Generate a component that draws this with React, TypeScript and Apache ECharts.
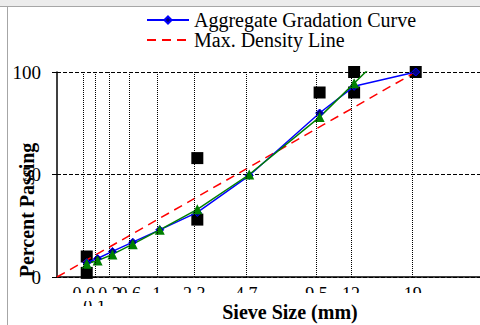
import React, { useEffect, useRef } from "react";
import * as echarts from "echarts";

// Sieve sizes (mm) and their tick labels as shown
const SIEVES = [0.075, 0.15, 0.3, 0.6, 1.18, 2.36, 4.75, 9.5, 12.5, 19];
const TICK_LABELS = ["0.0", "0.1", "0.3", "0.6", "1", "2.3", "4.7", "9.5", "12", "19"];
const STAGGERED = [false, true, false, false, false, false, false, false, false, false];

// Percent passing
const GRADATION = [7, 9, 12.5, 17, 23, 31.5, 49.5, 80, 93, 100];
const TRIAL = [6.5, 8, 11, 16, 23, 33, 50, 78, 94.5, 124];
const CONTROL_POINTS: [number, number][] = [
  [0.075, 2], [0.075, 10], [2.36, 28], [2.36, 58], [9.5, 90], [12.5, 90], [12.5, 100], [19, 100],
];
const MAX_DENSITY: [number, number][] = [[0, 0], [19, 100]];
const Y_TICKS = [0, 50, 100];

const POWER = 0.45;
const p = (s: number) => Math.pow(s, POWER);
const FONT = "'Liberation Serif', 'Times New Roman', serif";

export default function App() {
  const ref = useRef<HTMLDivElement>(null);
  useEffect(() => {
    if (!ref.current) return;
    const chart = echarts.init(ref.current, null, { renderer: "svg" });
    const xs = SIEVES.map(p);
    const nearest = (v: number) => {
      let bi = 0;
      xs.forEach((x, i) => { if (Math.abs(x - v) < Math.abs(xs[bi] - v)) bi = i; });
      return bi;
    };
    const labelBase = {
      showMinLabel: true, showMaxLabel: true, hideOverlap: false,
      formatter: (v: number) => TICK_LABELS[nearest(v)],
      fontSize: 18, lineHeight: 13, margin: 10, color: "#000", fontFamily: FONT,
    };
    const hiddenAxisParts = {
      axisLine: { show: false }, axisTick: { show: false }, splitLine: { show: false },
    };
    chart.setOption({
      animation: false,
      backgroundColor: "#fff",
      legend: {
        data: [
          { name: "Aggregate Gradation Curve" },
          { name: "Max. Density Line", itemStyle: { opacity: 0 } },
        ],
        orient: "vertical",
        left: 141,
        top: 5,
        itemWidth: 42,
        itemHeight: 9,
        itemGap: 0,
        textStyle: { fontSize: 20, fontFamily: FONT, color: "#000" },
      },
      grid: [
        { left: 54, right: 0, top: 72, bottom: 48 },
        { left: 57, right: 0, top: 72, bottom: 48 },
      ],
      xAxis: [
        {
          type: "value", gridIndex: 0, min: 0, max: 426 / 95.35, position: "bottom",
          ...hiddenAxisParts,
          axisLabel: { ...labelBase, customValues: xs.filter((_, i) => !STAGGERED[i]) },
        },
        {
          type: "value", gridIndex: 1, min: 0, max: 423 / 95.35,
          axisLine: { show: true, onZero: false, lineStyle: { color: "#000", width: 1.5 } },
          axisTick: { show: false }, axisLabel: { show: false }, splitLine: { show: false },
        },
        {
          type: "value", gridIndex: 0, min: 0, max: 426 / 95.35, position: "bottom", offset: 13,
          ...hiddenAxisParts,
          axisLabel: { ...labelBase, customValues: xs.filter((_, i) => STAGGERED[i]) },
        },
      ],
      yAxis: [
        { type: "value", gridIndex: 0, min: 0, max: 100, show: false },
        {
          type: "value", gridIndex: 1, min: Y_TICKS[0], max: Y_TICKS[2], interval: Y_TICKS[1] - Y_TICKS[0],
          axisLine: { show: true, lineStyle: { color: "#000", width: 1.5 } },
          axisTick: { show: true, length: 5, lineStyle: { color: "#000" } },
          splitLine: { show: true, lineStyle: { color: "#000", type: "dashed", width: 1 } },
          axisLabel: { fontSize: 19, margin: 16, color: "#000", fontFamily: FONT },
        },
      ],
      series: [
        {
          type: "line", xAxisIndex: 0, yAxisIndex: 0, data: [], silent: true,
          markLine: {
            silent: true, symbol: ["none", "none"], label: { show: false },
            lineStyle: { color: "#000", type: "dotted", width: 1 },
            data: xs.map((x) => ({ xAxis: x })),
          },
        },
        {
          name: "Control Points", type: "scatter", xAxisIndex: 1, yAxisIndex: 1,
          symbol: "rect", symbolSize: 12, itemStyle: { color: "#000", opacity: 1 },
          data: CONTROL_POINTS.map(([s, v]) => [p(s), v]),
        },
        {
          name: "Max. Density Line", type: "line", xAxisIndex: 1, yAxisIndex: 1,
          symbol: "none", lineStyle: { color: "#ff0000", type: [9, 6], width: 1.5 },
          itemStyle: { color: "#ff0000" },
          data: MAX_DENSITY.map(([s, v]) => [p(s), v]),
        },
        {
          name: "Aggregate Gradation Curve", type: "line", xAxisIndex: 1, yAxisIndex: 1,
          symbol: "diamond", symbolSize: 8,
          lineStyle: { color: "#0000ff", width: 1.5 },
          itemStyle: { color: "#000080", borderColor: "#0000ff", borderWidth: 1 },
          data: SIEVES.map((s, i) => [p(s), GRADATION[i]]),
        },
        {
          name: "Trial", type: "line", xAxisIndex: 1, yAxisIndex: 1,
          symbol: "triangle", symbolSize: 10, clip: true,
          lineStyle: { color: "#008000", width: 1.5 },
          itemStyle: { color: "#008000" },
          data: SIEVES.map((s, i) => [p(s), TRIAL[i]]),
        },
      ],
      graphic: [
        { type: "rect", shape: { x: 0, y: 0, width: 480, height: 6 }, style: { fill: "#ececec" }, z: 90 },
        { type: "line", shape: { x1: 0, y1: 6.5, x2: 480, y2: 6.5 }, style: { stroke: "#a6a6a6", lineWidth: 1 }, z: 91 },
        { type: "line", shape: { x1: 7.5, y1: 6, x2: 7.5, y2: 325 }, style: { stroke: "#a6a6a6", lineWidth: 1 }, z: 91 },
        { type: "rect", shape: { x: 57, y: 293, width: 423, height: 8 }, style: { fill: "#fff" }, z: 100 },
        { type: "rect", shape: { x: 78, y: 306, width: 40, height: 9 }, style: { fill: "#fff" }, z: 100 },
        {
          type: "text", x: 27, y: 210, rotation: Math.PI / 2, z: 101,
          style: {
            text: "Percent Passing", font: `bold 20px ${FONT}`, fill: "#000",
            align: "center", verticalAlign: "middle", textAlign: "center", textVerticalAlign: "middle",
          },
        },
        {
          type: "text", x: 290, y: 312, z: 101,
          style: {
            text: "Sieve Size (mm)", font: `bold 20px ${FONT}`, fill: "#000",
            align: "center", verticalAlign: "middle", textAlign: "center", textVerticalAlign: "middle",
          },
        },
      ],
    });
    return () => chart.dispose();
  }, []);
  return (
    <div
      ref={ref}
      style={{ position: "fixed", left: 0, top: 0, width: 480, height: 325 }}
    />
  );
}
